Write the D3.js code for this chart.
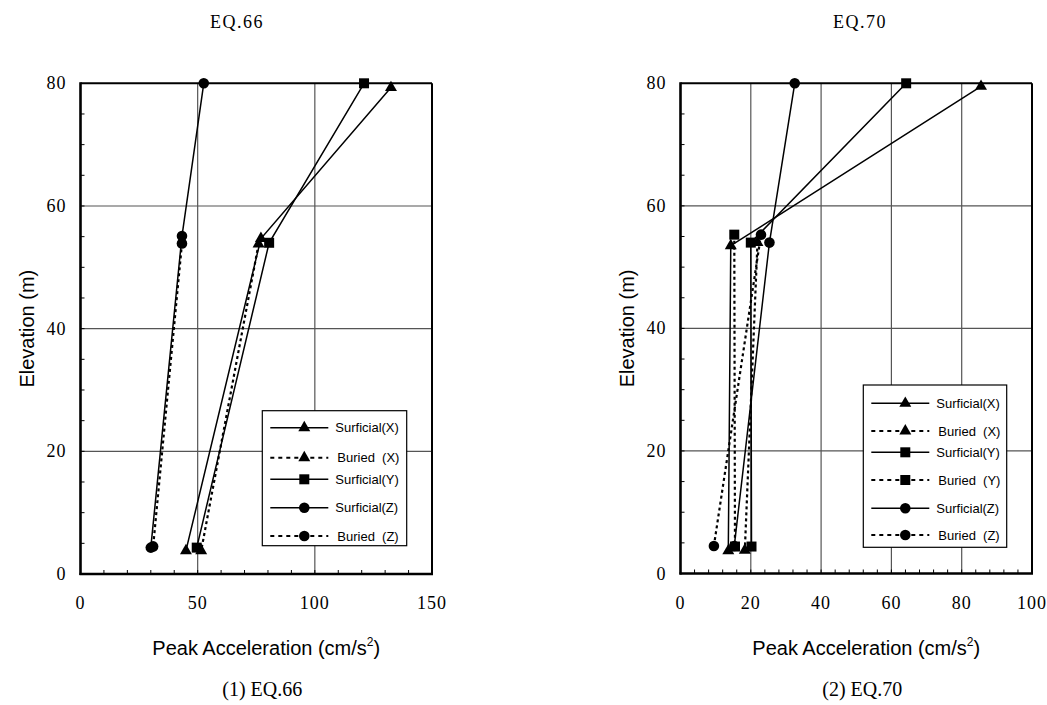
<!DOCTYPE html>
<html>
<head>
<meta charset="utf-8">
<script src="https://cdn.jsdelivr.net/npm/d3@7"></script>
<style>
  body { margin: 0; background: #fff; }
  svg { display: block; }
</style>
</head>
<body>
<svg width="1047" height="705"></svg>
<script>
/**
 * Data: [acceleration (cm/s2), elevation (m)].
 */
const legendNames = ['Surficial(X)', 'Buried  (X)', 'Surficial(Y)', 'Buried  (Y)', 'Surficial(Z)', 'Buried  (Z)'];

// EQ.66
const eq66SurfX = [[132.5, 79.3], [77, 54.7], [45, 3.8]];
const eq66BurX  = [[76, 53.8], [51.5, 3.8]];
const eq66SurfY = [[121, 80], [80.5, 54], [49.6, 4.3]];
const eq66SurfZ = [[52.6, 80], [43.3, 55.1], [30, 4.3]];
const eq66BurZ  = [[43.3, 53.9], [31, 4.5]];

// EQ.70
const eq70SurfX = [[85.5, 79.5], [14.3, 53.5], [13.6, 3.7]];
const eq70BurX  = [[21.9, 54], [18.3, 3.8]];
const eq70SurfY = [[64.2, 80], [20, 54], [20.2, 4.4]];
const eq70BurY  = [[15.3, 55.3], [15.5, 4.4]];
const eq70SurfZ = [[32.5, 80], [25.3, 54], [15.3, 4.5]];
const eq70BurZ  = [[22.9, 55.3], [9.5, 4.5]];

const eq66XTicks = [0, 50, 100, 150];
const eq70XTicks = [0, 20, 40, 60, 80, 100];
const elevTicks = [0, 20, 40, 60, 80];

const svg = d3.select('svg');

const serif = '"Liberation Serif", "Times New Roman", serif';
const sans = '"Liberation Sans", Arial, sans-serif';

function symbolFor(kind) {
    if (kind === 'tri') return d3.symbol(d3.symbolTriangle, 62);
    if (kind === 'sq') return d3.symbol(d3.symbolSquare, 100);
    return d3.symbol(d3.symbolCircle, 88);
}

/**
 * Draw one panel.
 */
function drawPanel(p) {
    const x = d3.scaleLinear().domain([0, p.xMax]).range([p.left, p.right]);
    const y = d3.scaleLinear().domain([0, 80]).range([p.bottom, p.top]);
    const g = svg.append('g');

    // grid
    g.selectAll('.vgrid')
        .data(p.xTicks.slice(1, -1))
        .enter()
        .append('line')
        .attr('x1', d => x(d)).attr('x2', d => x(d))
        .attr('y1', y(0)).attr('y2', y(80))
        .attr('stroke', '#555').attr('stroke-width', 1.2);
    g.selectAll('.hgrid')
        .data(elevTicks.slice(1, -1))
        .enter()
        .append('line')
        .attr('x1', x(0)).attr('x2', x(p.xMax))
        .attr('y1', d => y(d)).attr('y2', d => y(d))
        .attr('stroke', '#555').attr('stroke-width', 1.2);

    // minor ticks, inward
    g.selectAll('.xminor')
        .data(d3.range(p.xMinor, p.xMax, p.xMinor))
        .enter()
        .append('line')
        .attr('x1', d => x(d)).attr('x2', d => x(d))
        .attr('y1', y(0)).attr('y2', y(0) - 4)
        .attr('stroke', '#000').attr('stroke-width', 1);
    g.selectAll('.yminor')
        .data(d3.range(5, 80, 5))
        .enter()
        .append('line')
        .attr('x1', x(0)).attr('x2', x(0) + 4)
        .attr('y1', d => y(d)).attr('y2', d => y(d))
        .attr('stroke', '#000').attr('stroke-width', 1);

    // frame
    g.append('line').attr('x1', x(0)).attr('x2', x(p.xMax)).attr('y1', y(80)).attr('y2', y(80))
        .attr('stroke', '#000').attr('stroke-width', 2);
    g.append('line').attr('x1', x(p.xMax)).attr('x2', x(p.xMax)).attr('y1', y(80)).attr('y2', y(0))
        .attr('stroke', '#000').attr('stroke-width', 2);
    g.append('line').attr('x1', x(0) - 1).attr('x2', x(p.xMax) + 1).attr('y1', y(0)).attr('y2', y(0))
        .attr('stroke', '#000').attr('stroke-width', 2.6);
    g.append('line').attr('x1', x(0)).attr('x2', x(0)).attr('y1', y(80) - 1).attr('y2', y(0) + 1)
        .attr('stroke', '#000').attr('stroke-width', 2.6);

    // tick labels
    g.selectAll('.xlab')
        .data(p.xTicks)
        .enter()
        .append('text')
        .attr('x', d => x(d)).attr('y', y(0) + 35)
        .attr('text-anchor', 'middle')
        .style('font-family', serif).style('font-size', '18px')
        .style('letter-spacing', '1px')
        .text(d => d);
    g.selectAll('.ylab')
        .data(elevTicks)
        .enter()
        .append('text')
        .attr('x', x(0) - 14).attr('y', d => y(d) + 6)
        .attr('text-anchor', 'end')
        .style('font-family', serif).style('font-size', '18px')
        .style('letter-spacing', '1px')
        .text(d => d);

    // series
    const line = d3.line().x(d => x(d[0])).y(d => y(d[1]));
    p.series.forEach(s => {
        g.append('path')
            .attr('d', line(s.pts))
            .attr('fill', 'none')
            .attr('stroke', '#000')
            .attr('stroke-width', s.dashed ? 2.2 : 1.5)
            .attr('stroke-dasharray', s.dashed ? '3,3' : null);
    });
    p.series.forEach(s => {
        g.selectAll(null)
            .data(s.pts)
            .enter()
            .append('path')
            .attr('d', symbolFor(s.sym))
            .attr('transform', d => `translate(${x(d[0])},${y(d[1])})`)
            .attr('fill', '#000');
    });

    // legend
    const lg = g.append('g');
    lg.append('rect')
        .attr('x', p.legend.x).attr('y', p.legend.y)
        .attr('width', p.legend.w).attr('height', p.legend.h)
        .attr('fill', '#fff').attr('stroke', '#000').attr('stroke-width', 1.2);
    p.series.forEach((s, i) => {
        const ry = p.legend.y + p.legend.rows[i];
        const lx0 = p.legend.x + 8;
        lg.append('line')
            .attr('x1', lx0).attr('x2', lx0 + 58)
            .attr('y1', ry).attr('y2', ry)
            .attr('stroke', '#000')
            .attr('stroke-width', s.dashed ? 2 : 1.4)
            .attr('stroke-dasharray', s.dashed ? '4,4' : null);
        lg.append('path')
            .attr('d', symbolFor(s.sym))
            .attr('transform', `translate(${lx0 + 34},${ry})`)
            .attr('fill', '#000');
        lg.append('text')
            .attr('x', p.legend.x + (s.dashed ? 75 : 73)).attr('y', ry + 4.5)
            .style('font-family', sans).style('font-size', '13px')
            .style('white-space', 'pre')
            .attr('xml:space', 'preserve')
            .text(s.name);
    });

    // titles
    const cx = (p.left + p.right) / 2;
    g.append('text')
        .attr('x', p.titleX).attr('y', 28)
        .attr('text-anchor', 'middle')
        .style('font-family', serif).style('font-size', '18px')
        .style('letter-spacing', '1.5px')
        .text(p.title);
    const xl = g.append('text')
        .attr('x', cx + 10).attr('y', 655)
        .attr('text-anchor', 'middle')
        .style('font-family', sans).style('font-size', '20px');
    xl.append('tspan').text('Peak Acceleration (cm/s');
    xl.append('tspan').attr('dy', -9).style('font-size', '12px').text('2');
    xl.append('tspan').attr('dy', 9).text(')');
    g.append('text')
        .attr('transform', `translate(${p.left - 47},${(p.top + p.bottom) / 2}) rotate(-90)`)
        .attr('text-anchor', 'middle')
        .style('font-family', sans).style('font-size', '20px')
        .text('Elevation (m)');
    g.append('text')
        .attr('x', cx + 6).attr('y', 696)
        .attr('text-anchor', 'middle')
        .style('font-family', serif).style('font-size', '20px')
        .text(p.caption);
}

drawPanel({
    left: 80.5, right: 432, top: 83.3, bottom: 574,
    xMax: 150, xMinor: 10, xTicks: eq66XTicks,
    title: 'EQ.66', titleX: 237, caption: '(1) EQ.66',
    series: [
        { name: legendNames[0], pts: eq66SurfX, dashed: false, sym: 'tri' },
        { name: legendNames[1], pts: eq66BurX, dashed: true, sym: 'tri' },
        { name: legendNames[2], pts: eq66SurfY, dashed: false, sym: 'sq' },
        { name: legendNames[4], pts: eq66SurfZ, dashed: false, sym: 'circ' },
        { name: legendNames[5], pts: eq66BurZ, dashed: true, sym: 'circ' }
    ],
    legend: { x: 262.3, y: 410.7, w: 144.4, h: 135, rows: [17, 47, 68.6, 97, 125.3] }
});

drawPanel({
    left: 680.5, right: 1032, top: 83.3, bottom: 573.5,
    xMax: 100, xMinor: 4, xTicks: eq70XTicks,
    title: 'EQ.70', titleX: 860, caption: '(2) EQ.70',
    series: [
        { name: legendNames[0], pts: eq70SurfX, dashed: false, sym: 'tri' },
        { name: legendNames[1], pts: eq70BurX, dashed: true, sym: 'tri' },
        { name: legendNames[2], pts: eq70SurfY, dashed: false, sym: 'sq' },
        { name: legendNames[3], pts: eq70BurY, dashed: true, sym: 'sq' },
        { name: legendNames[4], pts: eq70SurfZ, dashed: false, sym: 'circ' },
        { name: legendNames[5], pts: eq70BurZ, dashed: true, sym: 'circ' }
    ],
    legend: { x: 863.3, y: 385, w: 143.4, h: 162.3, rows: [18.3, 46, 67.3, 95, 123.3, 150] }
});
</script>
</body>
</html>
